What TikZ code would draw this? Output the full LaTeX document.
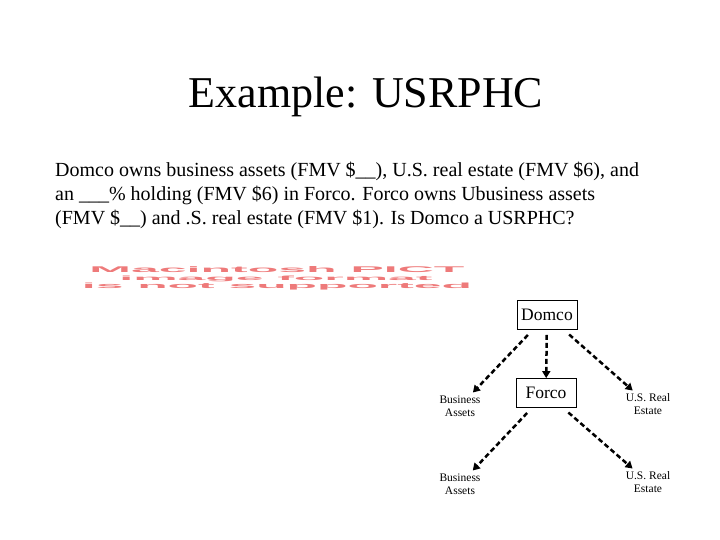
\documentclass[tikz,border=0pt]{standalone}
\usepackage{fontspec}
\setmainfont{Liberation Serif}
\newfontfamily\pictfont{Liberation Sans}
\usepackage{xcolor}
\usetikzlibrary{arrows.meta, positioning}
\definecolor{pictred}{RGB}{238,122,122}

\begin{document}
\begin{tikzpicture}[x=1pt, y=-1pt,
    entity/.style={rectangle, draw=black, line width=0.8pt, minimum width=60pt, minimum height=29pt, inner sep=2pt, font=\fontsize{17.5}{20}\selectfont},
    asset/.style={align=center, inner sep=1pt, font=\fontsize{11.5}{12.5}\selectfont},
    own/.style={draw=black, line width=2.5pt, dash pattern=on 5pt off 3pt, -{Triangle[length=7pt, width=8pt]}, shorten <=7pt, shorten >=3pt},
    pict/.style={text=pictred, inner sep=0pt, font=\pictfont\bfseries}
]
\useasboundingbox (0,0) rectangle (720,540);

\node (title) at (366,97) {\fontsize{44}{48}\selectfont Example: USRPHC};

\node[anchor=north west, align=left, inner sep=0pt, font=\fontsize{20}{24}\selectfont] (facts) at (55,162)
  {Domco owns business assets (FMV \$\_\_), U.S. real estate (FMV \$6), and\\
   an \_\_\_\% holding (FMV \$6) in Forco. Forco owns Ubusiness assets\\
   (FMV \$\_\_) and .S. real estate (FMV \$1). Is Domco a USRPHC?};

% placeholder left by the missing picture
\node[pict] (pict1) at (277,270) {\resizebox{375pt}{6pt}{Macintosh PICT}};
\node[pict] (pict2) at (276,278.5) {\resizebox{313pt}{4.5pt}{image format}};
\node[pict] (pict3) at (277,287) {\resizebox{390pt}{5.5pt}{is not supported}};

\node[entity] (domco) at (547,315) {Domco};
\node[entity] (forco) at (546,393) {Forco};

\node[asset] (bizA) at (460,406) {Business\\Assets};
\node[asset] (realA) at (648,404) {U.S. Real\\Estate};
\node[asset] (bizB) at (460,484) {Business\\Assets};
\node[asset] (realB) at (648,482) {U.S. Real\\Estate};

\draw[own] (domco) -- (bizA);
\draw[own, shorten <=5pt, shorten >=0pt] (domco) -- (forco);
\draw[own] (domco) -- (realA);
\draw[own] (forco) -- (bizB);
\draw[own] (forco) -- (realB);
\end{tikzpicture}
\end{document}
